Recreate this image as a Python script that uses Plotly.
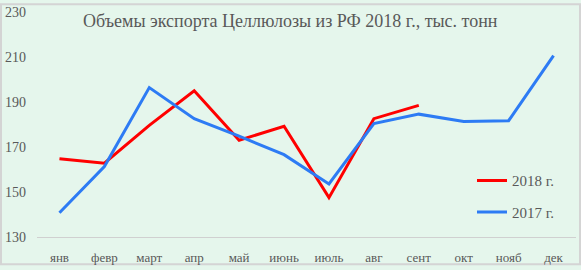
import plotly.graph_objects as go

months = ["янв", "февр", "март", "апр", "май", "июнь", "июль", "авг", "сент", "окт", "нояб", "дек"]
y2018 = [164.8, 162.8, 179.6, 195.0, 173.0, 179.2, 147.5, 182.6, 188.5]
y2017 = [140.8, 161.3, 196.4, 182.6, 174.8, 166.6, 153.6, 180.4, 184.6, 181.3, 181.7, 210.6]
yticks = [130, 150, 170, 190, 210, 230]
title = "Объемы экспорта Целлюлозы из РФ 2018 г., тыс. тонн"

W, H = 581, 270
ml, mr, mt, mb = 37, 5, 9, 29
pw, ph = W - ml - mr, H - mt - mb

font_family = "Liberation Serif, DejaVu Serif, serif"
grey = "#595959"

fig = go.Figure()
fig.add_trace(go.Scatter(x=months[:len(y2018)], y=y2018, mode="lines", name="2018 г.",
                         line=dict(color="#FF0000", width=3), legendgroup="a"))
fig.add_trace(go.Scatter(x=months, y=y2017, mode="lines", name="2017 г.",
                         line=dict(color="#2D7BF4", width=3), legendgroup="b"))

fig.update_layout(
    width=W, height=H,
    margin=dict(l=ml, r=mr, t=mt, b=mb),
    paper_bgcolor="#E5F6EC", plot_bgcolor="#E5F6EC",
    font=dict(family=font_family, color=grey, size=12),
    showlegend=True,
    legend=dict(x=(472 - ml) / pw, y=(241 - 166) / ph, xanchor="left", yanchor="top",
                bgcolor="rgba(0,0,0,0)", font=dict(size=15, color=grey),
                tracegroupgap=9, traceorder="grouped"),
    annotations=[dict(text=title, xref="paper", yref="paper",
                      x=(290 - ml) / pw, y=(241 - 18) / ph, xanchor="center", yanchor="middle",
                      showarrow=False, font=dict(size=18, color=grey, family=font_family))],
    shapes=[dict(type="rect", xref="paper", yref="paper",
                 x0=(-ml + 1) / pw, x1=(pw + mr - 1) / pw,
                 y0=(-mb + 1) / ph, y1=(ph + mt - 1) / ph,
                 line=dict(color="#D4D4D4", width=2), fillcolor="rgba(0,0,0,0)", layer="below")],
)
fig.update_xaxes(type="category", categoryorder="array", categoryarray=months,
                 range=[-0.5, len(months) - 0.5],
                 showgrid=False, showline=True, linecolor="#D0D0D0", linewidth=1,
                 ticks="", tickfont=dict(size=13, color=grey), ticklabelstandoff=8,
                 zeroline=False)
fig.update_yaxes(range=[130, 230], tickvals=yticks, showgrid=False, zeroline=False,
                 showline=False, ticks="", tickfont=dict(size=14, color=grey),
                 ticklabelstandoff=10)

fig.write_html("out.html")
